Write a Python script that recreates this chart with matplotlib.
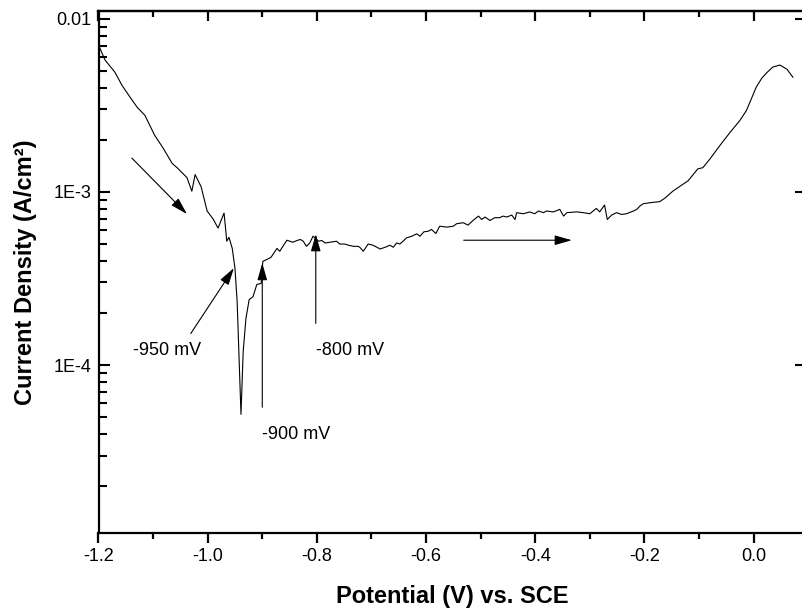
import numpy as np
import matplotlib.pyplot as plt
from matplotlib.ticker import NullFormatter, FixedLocator

plt.rcParams['font.family'] = ['Liberation Sans', 'DejaVu Sans']

# polarization scan, in four stretches
# cathodic branch down through the dip
pot_cath = [-1.200, -1.188, -1.170, -1.157, -1.142, -1.129, -1.115, -1.097,
            -1.082, -1.065, -1.056, -1.038, -1.029, -1.023, -1.012, -1.001,
            -0.990, -0.981, -0.970, -0.965, -0.961, -0.955, -0.950, -0.946,
            -0.939, -0.935, -0.930, -0.924, -0.917, -0.910, -0.902, -0.899,
            -0.891, -0.884, -0.873, -0.868, -0.855, -0.844, -0.835]
cur_cath = [7.06e-3, 5.78e-3, 4.92e-3, 4.13e-3, 3.52e-3, 3.08e-3, 2.77e-3, 2.12e-3,
            1.80e-3, 1.46e-3, 1.38e-3, 1.21e-3, 1.01e-3, 1.26e-3, 1.07e-3, 7.76e-4,
            6.97e-4, 6.18e-4, 7.55e-4, 5.19e-4, 5.47e-4, 4.72e-4, 3.61e-4, 2.32e-4,
            5.19e-5, 1.19e-4, 1.85e-4, 2.39e-4, 2.48e-4, 2.92e-4, 2.96e-4, 3.97e-4,
            4.08e-4, 4.19e-4, 4.72e-4, 4.54e-4, 5.26e-4, 5.12e-4, 5.26e-4]

# passive plateau, first part
pot_pass1 = [-0.830, -0.825, -0.819, -0.813, -0.807, -0.797, -0.791, -0.785,
             -0.773, -0.764, -0.758, -0.749, -0.742, -0.733, -0.724, -0.720,
             -0.715, -0.706, -0.697, -0.684, -0.675, -0.666, -0.660, -0.654,
             -0.648, -0.642, -0.636, -0.626, -0.617, -0.611, -0.604, -0.596,
             -0.590, -0.582, -0.575, -0.562, -0.550, -0.544, -0.532, -0.523,
             -0.514, -0.504, -0.498, -0.492, -0.483, -0.474, -0.465]
cur_pass1 = [5.31e-4, 5.19e-4, 4.85e-4, 5.07e-4, 5.55e-4, 5.19e-4, 5.24e-4, 5.07e-4,
             5.14e-4, 5.19e-4, 5.00e-4, 5.00e-4, 4.92e-4, 4.85e-4, 4.85e-4, 4.74e-4,
             4.54e-4, 5.00e-4, 4.92e-4, 4.68e-4, 4.79e-4, 4.92e-4, 4.79e-4, 5.07e-4,
             5.00e-4, 5.19e-4, 5.42e-4, 5.55e-4, 5.73e-4, 5.55e-4, 5.88e-4, 5.93e-4,
             6.07e-4, 5.75e-4, 6.34e-4, 6.26e-4, 6.34e-4, 6.55e-4, 6.64e-4, 6.43e-4,
             6.84e-4, 7.25e-4, 6.93e-4, 7.16e-4, 6.84e-4, 7.10e-4, 7.10e-4]

# passive plateau, second part
pot_pass2 = [-0.459, -0.452, -0.443, -0.437, -0.434, -0.422, -0.410, -0.401,
             -0.394, -0.385, -0.379, -0.367, -0.355, -0.348, -0.342, -0.324,
             -0.312, -0.300, -0.294, -0.288, -0.282, -0.273, -0.268, -0.260,
             -0.251, -0.242, -0.233, -0.220, -0.214, -0.208, -0.202, -0.190, -0.172]
cur_pass2 = [7.25e-4, 7.16e-4, 7.35e-4, 6.93e-4, 7.59e-4, 7.48e-4, 7.66e-4, 7.48e-4,
             7.76e-4, 7.59e-4, 7.76e-4, 7.66e-4, 7.93e-4, 7.25e-4, 7.59e-4, 7.67e-4,
             7.59e-4, 7.48e-4, 7.76e-4, 8.03e-4, 7.67e-4, 8.40e-4, 6.93e-4, 7.35e-4,
             7.59e-4, 7.41e-4, 7.48e-4, 7.76e-4, 7.93e-4, 8.30e-4, 8.55e-4, 8.66e-4, 8.79e-4]

# transpassive rise
pot_trans = [-0.162, -0.148, -0.120, -0.102, -0.093, -0.080, -0.062, -0.043, -0.025,
             -0.013, -0.003, 0.005, 0.015, 0.024, 0.035, 0.048, 0.061, 0.072]
cur_trans = [9.23e-4, 1.01e-3, 1.16e-3, 1.36e-3, 1.38e-3, 1.55e-3, 1.85e-3, 2.21e-3, 2.59e-3,
             2.96e-3, 3.52e-3, 4.04e-3, 4.54e-3, 4.88e-3, 5.26e-3, 5.41e-3, 5.12e-3, 4.60e-3]

potential = pot_cath + pot_pass1 + pot_pass2 + pot_trans
current = cur_cath + cur_pass1 + cur_pass2 + cur_trans

# annotations: label, text position, arrow tail, arrow head
labels = ['-950 mV', '-900 mV', '-800 mV']
label_pos = [(-1.137, 1.22e-4), (-0.900, 3.99e-5), (-0.802, 1.22e-4)]
arrow_tail = [(-1.031, 1.52e-4), (-0.900, 5.70e-5), (-0.802, 1.74e-4)]
arrow_head = [(-0.952, 3.63e-4), (-0.900, 3.88e-4), (-0.802, 5.70e-4)]
sweep_arrows = [((-1.139, 1.57e-3), (-1.038, 7.45e-4)),
                ((-0.531, 5.26e-4), (-0.333, 5.26e-4))]

major_x = np.arange(-1.2, 0.01, 0.2)
minor_x = np.arange(-1.1, 0.1, 0.2)
minor_y = [k * 10.0 ** e for e in (-5, -4, -3) for k in range(2, 10)]

fig = plt.figure(figsize=(8.02, 6.12), dpi=100)
ax = fig.add_axes([98.5 / 802, 1 - 533 / 612, (806 - 98.5) / 802, (533 - 11) / 612])
ax.plot(potential, current, color='black', lw=0.8)
ax.set_yscale('log')
ax.set_xlim(-1.2, 0.096)
ax.set_ylim(1.07e-5, 1.11e-2)

ax.set_xticks(major_x)
ax.set_xticklabels(['-1.2', '-1.0', '-0.8', '-0.6', '-0.4', '-0.2', '0.0'])
ax.xaxis.set_minor_locator(FixedLocator(minor_x))
ax.set_yticks([1e-4, 1e-3, 1e-2])
ax.set_yticklabels(['1E-4', '1E-3', '0.01'])
ax.yaxis.set_minor_locator(FixedLocator(minor_y))
ax.yaxis.set_minor_formatter(NullFormatter())
ax.tick_params(axis='x', which='both', direction='out', top=False, width=1.6,
               labelsize=13, pad=4)
ax.tick_params(axis='x', which='major', length=7)
ax.tick_params(axis='x', which='minor', length=4)
ax.tick_params(axis='y', which='both', direction='in', width=1.5, labelsize=13, pad=5)
ax.tick_params(axis='y', which='major', length=8, right=True)
ax.tick_params(axis='y', which='minor', length=5.5, right=False)

# inward ticks along the top
top = ax.secondary_xaxis('top')
top.set_xticks(major_x)
top.xaxis.set_minor_locator(FixedLocator(minor_x))
top.tick_params(which='both', direction='in', width=1.6, labeltop=False)
top.tick_params(which='major', length=7)
top.tick_params(which='minor', length=4)

for s in ax.spines.values():
    s.set_linewidth(1.6)
top.spines['top'].set_linewidth(1.6)

aprops = dict(arrowstyle='-|>,head_length=0.7,head_width=0.2', mutation_scale=15,
              color='black', lw=0.8, shrinkA=0, shrinkB=0)
for lab, pos, tail, head in zip(labels, label_pos, arrow_tail, arrow_head):
    ax.annotate('', xy=head, xytext=tail, arrowprops=aprops)
    ax.text(pos[0], pos[1], lab, fontsize=13, ha='left', va='center')
for tail, head in sweep_arrows:
    ax.annotate('', xy=head, xytext=tail, arrowprops=aprops)

ax.set_xlabel('Potential (V) vs. SCE', fontsize=17, fontweight='bold', labelpad=14)
ax.set_ylabel('Current Density (A/cm²)', fontsize=17, fontweight='bold', labelpad=12)

fig.savefig('out.png', dpi=100)
